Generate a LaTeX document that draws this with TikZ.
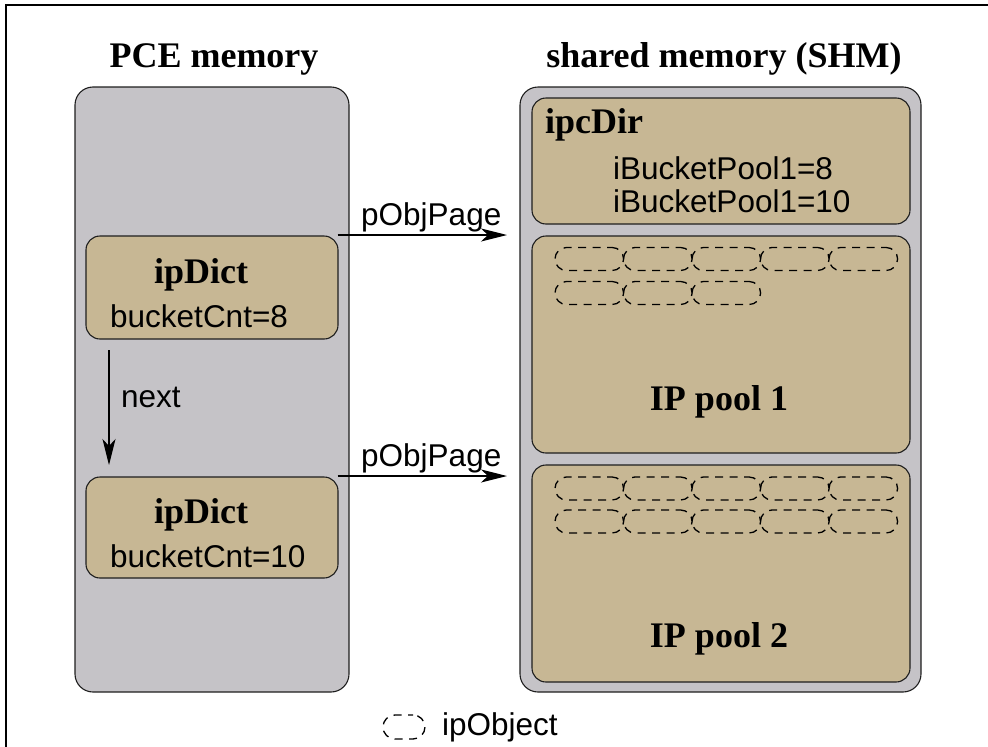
\documentclass[tikz,border=0pt]{standalone}
\usepackage{fontspec}
\setmainfont{Liberation Serif}
\setsansfont{Liberation Sans}
\usetikzlibrary{arrows.meta,calc}
\definecolor{memgray}{RGB}{197,195,199}
\definecolor{boxtan}{RGB}{199,183,148}
\definecolor{edge}{RGB}{30,30,30}
\begin{document}
\begin{tikzpicture}[x=1pt,y=-1pt,
  membox/.style={draw=edge, line width=1.1pt, fill=memgray, rounded corners=18pt, inner sep=0pt},
  tanbox/.style={draw=edge, line width=1.1pt, fill=boxtan, rounded corners=14pt, inner sep=0pt},
  heading/.style={font=\fontsize{36}{40}\selectfont\bfseries, inner sep=0pt},
  sanstext/.style={font=\sffamily\fontsize{31.5}{33}\selectfont, inner sep=0pt},
  ipobj/.style={draw=black, line width=1.3pt, dash pattern=on 8pt off 6.5pt, dash phase=3pt,
    rounded corners=11.5pt, minimum width=68.6pt, minimum height=23pt, inner sep=0pt},
  link/.style={line width=1.2pt, -{Stealth[length=26pt,width=13pt,inset=7pt]}},
  frameline/.style={line width=1.5pt, black}
]
\useasboundingbox (0,0) rectangle (988,747);

% partial frame: top and left edges only
\coordinate (fr-tl) at (6,5);
\coordinate (fr-tr) at (988,5);
\coordinate (fr-bl) at (6,747);
\draw[frameline] (fr-tr) -- (fr-tl) -- (fr-bl);

% column headings
\node[heading, anchor=base] (pcehead) at (214,67) {PCE memory};
\node[heading, anchor=base] (shmhead) at (724,67) {shared memory (SHM)};

% the two memory areas
\node[membox, minimum width=274pt, minimum height=605pt] (pce) at (212,389.5) {};
\node[membox, minimum width=401pt, minimum height=605pt] (shm) at (720.5,389.5) {};

% shared memory contents
\node[tanbox, minimum width=378pt, minimum height=126pt] (ipc) at (721,161) {};
\node[tanbox, minimum width=378pt, minimum height=217pt] (pool1) at (721,344.5) {};
\node[tanbox, minimum width=378pt, minimum height=217pt] (pool2) at (721,573.5) {};

\node[heading, anchor=base west] (ipcname) at (545,133) {ipcDir};
\node[sanstext, anchor=base west] (ipcb1) at (613,179) {iBucketPool1=8};
\node[sanstext, anchor=base west] (ipcb2) at (613,212) {iBucketPool1=10};

\node[heading, anchor=base] (pool1name) at (719,410) {IP pool 1};
\node[heading, anchor=base] (pool2name) at (719,647) {IP pool 2};

% ipObjects in the pools
\foreach \i in {0,...,4} {
  \node[ipobj] (pa-\i) at (589.3+68.5*\i,259) {};
  \node[ipobj] (pc-\i) at (589.3+68.5*\i,488.5) {};
  \node[ipobj] (pd-\i) at (589.3+68.5*\i,521.5) {};
}
\foreach \i in {0,...,2} {
  \node[ipobj] (pb-\i) at (589.3+68.5*\i,293) {};
}

% PCE dictionaries
\node[tanbox, minimum width=252pt, minimum height=103pt] (dict1) at (212,287.5) {};
\node[tanbox, minimum width=252pt, minimum height=101pt] (dict2) at (212,527.5) {};

\node[heading, anchor=base] (d1name) at (201,283) {ipDict};
\node[sanstext, anchor=base west] (d1cnt) at (110,327) {bucketCnt=8};
\node[heading, anchor=base] (d2name) at (201,523) {ipDict};
\node[sanstext, anchor=base west] (d2cnt) at (110,567) {bucketCnt=10};

% links
\coordinate (nextstart) at (109,350);
\coordinate (nextend) at (109,465);
\draw[link] (nextstart) -- (nextend);
\node[sanstext, anchor=base west] (nextlbl) at (121,407) {next};

\coordinate (pg1end) at (507,235);
\coordinate (pg2end) at (507,476);
\draw[link] (dict1.north east |- pg1end) ++(-1,0) coordinate (pg1start) -- (pg1end);
\draw[link] (dict2.north east |- pg2end) ++(-1,0) coordinate (pg2start) -- (pg2end);
\node[sanstext, anchor=base west] (pg1lbl) at (361,225) {pObjPage};
\node[sanstext, anchor=base west] (pg2lbl) at (361,466) {pObjPage};

% legend
\node[ipobj, minimum width=42pt, minimum height=24pt, rounded corners=12pt] (legobj) at (404,727) {};
\node[sanstext, anchor=base west] (legtext) at (442,735) {ipObject};
\end{tikzpicture}
\end{document}
